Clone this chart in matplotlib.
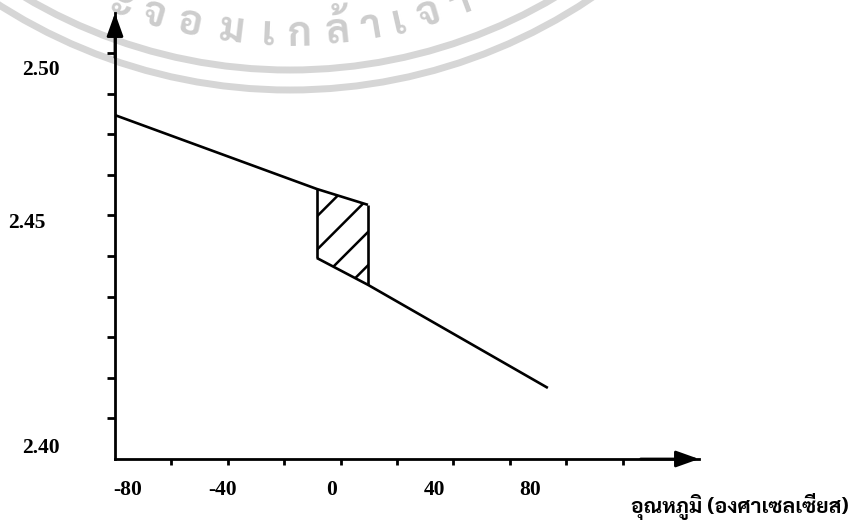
import numpy as np
import matplotlib
matplotlib.use("Agg")
import matplotlib.pyplot as plt
from matplotlib import font_manager as fm
from matplotlib.patches import Circle

# ---------------- data ----------------
upper_temp = [-80, -8.4, 9.7]            # deg C
upper_val = [2.4847, 2.4665, 2.4626]
lower_temp = [-8.4, 9.7, 73.5]
lower_val = [2.4495, 2.4429, 2.4175]
x_tick_values = [-60, -40, -20, 0, 20, 40, 60, 80, 100]
y_tick_values = [2.41, 2.42, 2.43, 2.44, 2.45, 2.46, 2.47, 2.48, 2.49, 2.50]
x_labels = ["-80", "-40", "0", "40", "80"]
y_labels = ["2.50", "2.45", "2.40"]
x_title = "อุณหภูมิ (องศาเซลเซียส)"
stamp_chars = ["ะ", "จ", "อ", "ม", "เ", "ก", "ล้", "า", "เ", "จ้", "า"]
stamp_widths = [3.5, 4.5, 4.5, 5.5, 3.0, 4.5, 4.5, 3.5, 3.0, 4.5, 3.5]  # degrees

# ---------------- Thai font choice ----------------
def has_bold(name):
    for f in fm.fontManager.ttflist:
        if f.name != name:
            continue
        w = f.weight
        if isinstance(w, str):
            if w in ("bold", "heavy", "black", "extra bold", "ultrabold"):
                return True
        elif w >= 700:
            return True
    return False

available = {f.name for f in fm.fontManager.ttflist}
title_family = next((n for n in ["Sarabun", "Noto Sans Thai Looped", "Noto Sans Thai"]
                     if n in available and has_bold(n)), "DejaVu Sans")
stamp_family = next((n for n in ["Noto Sans Thai Looped", "Sarabun", "Noto Sans Thai"]
                     if n in available and has_bold(n)), title_family)

W, H = 850, 520
fig = plt.figure(figsize=(8.5, 5.2), dpi=100)

def px(x, y):
    return x / W, 1 - y / H

# background (watermark stamp) in pixel space
bg = fig.add_axes([0, 0, 1, 1], zorder=-1)
bg.set_xlim(0, W)
bg.set_ylim(H, 0)
bg.axis("off")
cx, cy = 290, -450
for r in (520, 540):
    bg.add_patch(Circle((cx, cy), r, fill=False, ec="#d6d6d6", lw=5))
ang = -20.4
for i, ch in enumerate(stamp_chars):
    phi = np.radians(ang)
    rr = 485
    x = cx + rr * np.sin(phi)
    y = cy + rr * np.cos(phi)
    bg.text(x, y, ch, rotation=ang, ha="center", va="center",
            fontsize=29, weight="bold", color="#cdcdcd",
            family=[stamp_family, "DejaVu Sans"], rotation_mode="anchor")
    if i + 1 < len(stamp_chars):
        ang += (stamp_widths[i] + stamp_widths[i + 1]) / 2

# main axes
L, R, T, B = 115, 699, 13, 459
ax = fig.add_axes([L / W, (H - B) / H, (R - L) / W, (B - T) / H])
ax.set_facecolor("none")
ax.set_xlim(-80, -80 + (R - L) / 2.82)
ax.set_ylim(2.40, 2.40 + (B - T) / 4060)
for s in ("top", "right"):
    ax.spines[s].set_visible(False)
for s in ("left", "bottom"):
    ax.spines[s].set_linewidth(2)
ax.set_xticks(x_tick_values)
ax.set_yticks(y_tick_values)
ax.tick_params(axis="x", direction="out", length=4.5, width=2,
               labelbottom=False)
ax.tick_params(axis="y", direction="out", length=6, width=2, labelleft=False)

ap = dict(arrowstyle="-|>,head_length=1.4,head_width=0.5", color="k", lw=2,
          shrinkA=0, shrinkB=0)
ax.annotate("", xy=(0, 1), xytext=(0, 0.9), xycoords="axes fraction",
            arrowprops=ap, annotation_clip=False)
ax.annotate("", xy=(1, 0), xytext=(0.9, 0), xycoords="axes fraction",
            arrowprops=ap, annotation_clip=False)

# curves
ax.plot(upper_temp, upper_val, color="k", lw=1.9, solid_capstyle="butt")
ax.plot(lower_temp, lower_val, color="k", lw=1.9, solid_capstyle="butt")
ax.vlines([upper_temp[1], upper_temp[2]], [lower_val[0], lower_val[1]],
          [upper_val[1], upper_val[2]], color="k", lw=1.9)
plt.rcParams["hatch.linewidth"] = 1.8
ax.fill([upper_temp[1], upper_temp[2], lower_temp[1], lower_temp[0]],
        [upper_val[1], upper_val[2], lower_val[1], lower_val[0]],
        facecolor="none", edgecolor="k", hatch="/", lw=0)

# tick labels (placed where the drawing has them)
num_font = dict(family="Liberation Serif", weight="bold", fontsize=15.5)
for lab, xp in zip(x_labels, [128, 223, 332, 435, 530]):
    fig.text(*px(xp, 490), lab, ha="center", va="center", **num_font)
for lab, (xp, yp) in zip(y_labels, [(22, 70), (8, 223), (22, 448)]):
    fig.text(*px(xp, yp), lab, ha="left", va="center", **num_font)

fig.text(*px(849, 506), x_title, ha="right", va="center", fontsize=15.2,
         weight="bold", family=[title_family, "DejaVu Sans"])

fig.savefig("out.png", dpi=100)
